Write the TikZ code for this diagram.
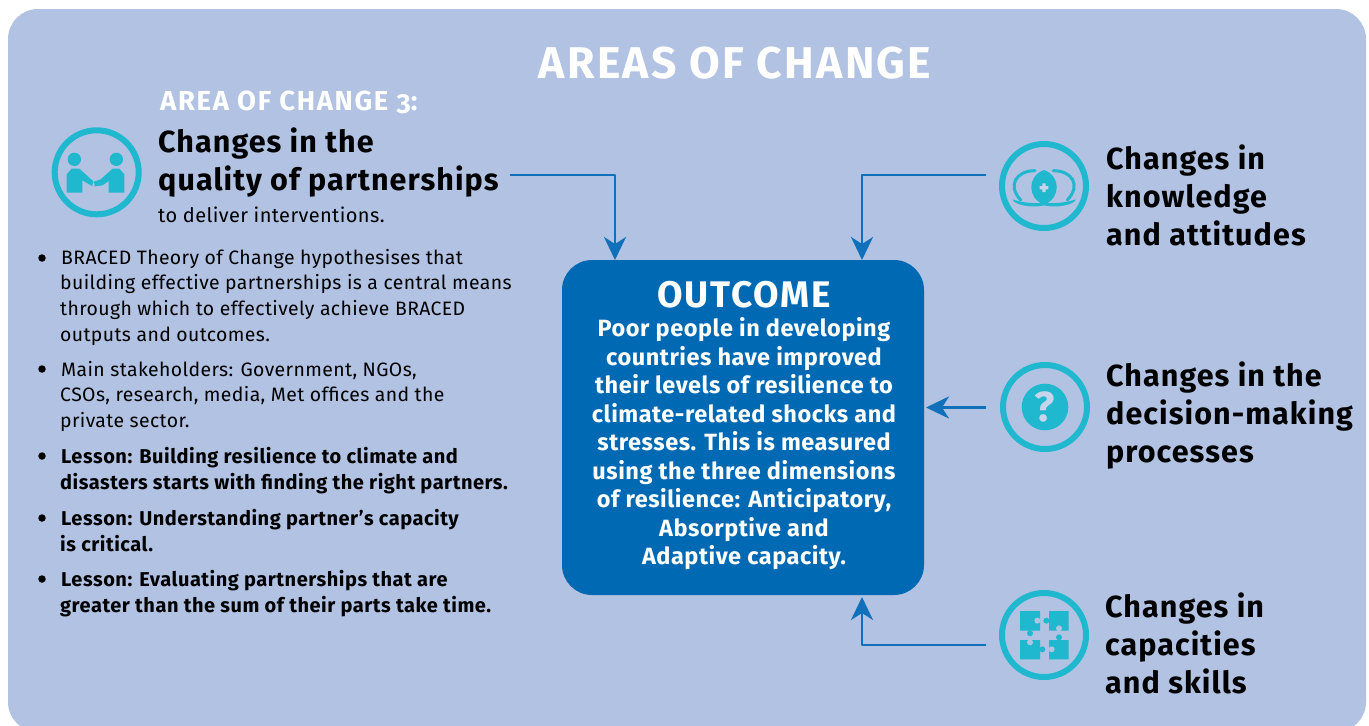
\documentclass[tikz,border=0pt]{standalone}
\usepackage{fontspec}
\setmainfont[LetterSpace=2.0]{Fira Sans}
\newfontfamily\headfont[LetterSpace=5.0]{Fira Sans}
\usetikzlibrary{arrows.meta}
\definecolor{panelblue}{HTML}{B1C2E3}
\definecolor{boxblue}{HTML}{0069B4}
\definecolor{linkblue}{HTML}{1070BA}
\definecolor{iconteal}{HTML}{1FB8CF}
\tikzset{
ring/.style={circle,draw=iconteal,line width=6pt,minimum size=84pt,inner sep=0pt},
changetxt/.style={anchor=north west,align=left,inner sep=0pt,font=\fontsize{30.5}{38}\selectfont\addfontfeature{LetterSpace=3.5}\bfseries},
bodytxt/.style={anchor=north west,align=left,inner sep=0pt,font=\fontsize{19.4}{25.6}\selectfont},
lessontxt/.style={anchor=north west,align=left,inner sep=0pt,font=\fontsize{20}{25.6}\selectfont\addfontfeature{LetterSpace=2.6}\bfseries},
bul/.style={circle,fill=black,minimum size=7.5pt,inner sep=0pt},
flow/.style={draw=linkblue,line width=2.5pt,-{Stealth[length=23pt,width=22pt,inset=7pt]}},
ink/.style={fill=iconteal,draw=none},
}
\begin{document}
\begin{tikzpicture}[x=1pt,y=-1pt,line join=round]
\useasboundingbox (0,0) rectangle (1369,726);
\fill[white] (0,0) rectangle (1369,726);
\begin{scope}
\clip (0,0) rectangle (1369,726);
\fill[panelblue,rounded corners=30pt] (8,9) rectangle (1366,732);
\end{scope}
% titles
\node[inner sep=0pt,white,font=\fontsize{44.5}{44.5}\selectfont\headfont\bfseries] (title) at (735,63) {AREAS OF CHANGE};
\node[anchor=west,inner sep=0pt,white,font=\fontsize{27.5}{27.5}\selectfont\addfontfeature{LetterSpace=6}\bfseries] (areathree) at (160,102.5) {AREA OF CHANGE {\addfontfeature{Numbers=OldStyle}3}:};
% outcome box
\node[fill=boxblue,rounded corners=30pt,minimum width=362pt,minimum height=335pt,inner sep=0pt] (outcome) at (743,427.5) {};
\node[inner sep=0pt,white,font=\fontsize{37}{37}\selectfont\headfont\bfseries] (outhead) at (744,295) {OUTCOME};
\node[anchor=north,inner sep=0pt,white,align=center,font=\fontsize{23.5}{28.5}\selectfont\addfontfeature{LetterSpace=2.3}\bfseries] (outtxt) at (744,317.5) {Poor people in developing\\countries have improved\\their levels of resilience to\\climate-related shocks and\\stresses. This is measured\\using the three dimensions\\of resilience: Anticipatory,\\Absorptive and\\Adaptive capacity.};
% left column
\node[ring] (iconA) at (96.7,172.3) {};
\node[changetxt] (changeA) at (158,127.5) {Changes in the\\quality of partnerships};
\node[anchor=west,inner sep=0pt,font=\fontsize{20}{20}\selectfont] (deliver) at (158,215) {to deliver interventions.};
\foreach \y in {258,369,456,518,579} \node[bul] (bul\y) at (42,\y) {};
\node[bodytxt] (itemA) at (60,249) {\hspace{1pt}BRACED Theory of Change hypothesises that\\building effective partnerships is a central means\\through which to effectively achieve BRACED\\outputs and outcomes.};
\node[bodytxt] (itemB) at (60,361) {\hspace{1pt}Main stakeholders: Government, NGOs,\\CSOs, research, media, Met offices and the\\private sector.};
\node[lessontxt] (itemC) at (60,447) {\hspace{1pt}Lesson: Building resilience to climate and\\disasters starts with finding the right partners.};
\node[lessontxt] (itemD) at (60,509) {\hspace{1pt}Lesson: Understanding partner's capacity\\is critical.};
\node[lessontxt] (itemE) at (60,570) {\hspace{1pt}Lesson: Evaluating partnerships that are\\greater than the sum of their parts take time.};
% right column
\node[ring] (iconB) at (1044,186) {};
\node[ring] (iconC) at (1045,407) {};
\node[ring] (iconD) at (1044,635) {};
\node[changetxt] (changeB) at (1106,144.5) {Changes in\\knowledge\\and attitudes};
\node[changetxt] (changeC) at (1106,361.5) {Changes in the\\decision-making\\processes};
\node[changetxt] (changeD) at (1105,592.5) {Changes in\\capacities\\and skills};
% handshake icon
\begin{scope}[shift={(30,80)},scale=1/3]
\fill[ink] (133,238) circle (20) (259,238) circle (20);
\fill[ink] (110,338) -- (110,283) -- (125,266) -- (148,266) -- (190,304) -- (186,318) -- (157,301) -- (157,338) -- cycle;
\fill[ink] (283,338) -- (283,283) -- (268,266) -- (248,266) -- (212,298) -- (192,305) -- (194,319) -- (218,316) -- (236,303) -- (236,338) -- cycle;
\end{scope}
% eye icon
\begin{scope}[shift={(980,130)},scale=1/3]
\fill[ink] (192,120) .. controls (243,138) and (243,205) .. (192,224) .. controls (141,205) and (141,138) .. (192,120) -- cycle;
\fill[white!30!panelblue] (187,160) rectangle (197,186) (179,168) rectangle (205,178);
\draw[iconteal,line width=3pt,line cap=round] (165,122) .. controls (110,122) and (80,165) .. (122,210) (220,122) .. controls (275,122) and (305,165) .. (262,210);
\fill[ink] (98,208) .. controls (125,218) and (165,222) .. (192,218) .. controls (220,222) and (260,218) .. (287,208) .. controls (285,225) and (225,235) .. (192,226) .. controls (160,235) and (100,225) .. (98,208) -- cycle;
\end{scope}
% question icon
\node[circle,fill=iconteal,minimum size=46.6pt,inner sep=0pt,text=white!30!panelblue,font=\fontsize{42}{42}\selectfont\bfseries] (quest) at (1045,407) {?};
% puzzle icon
\begin{scope}[shift={(980,580)},scale=1/3]
\fill[ink] (120,93) rectangle (180,152) (207,93) rectangle (266,152) (120,180) rectangle (180,238) (207,180) rectangle (266,238);
\fill[ink] (150,160) circle (9) (199,122) circle (9) (187,208) circle (9) (237,172) circle (9);
\fill[panelblue] (172,122) circle (9) (237,145) circle (9) (150,187) circle (9) (215,208) circle (9);
\end{scope}
% links
\coordinate (tailA) at (510,175);
\coordinate (tipA) at (615,260);
\coordinate (tailB) at (986,175);
\coordinate (tipB) at (862,260);
\coordinate (tailC) at (986,407.5);
\coordinate (tipC) at (926,407.5);
\coordinate (tailD) at (986,645);
\coordinate (tipD) at (862,597);
\draw[flow] (tailA) -| (tipA);
\draw[flow] (tailB) -| (tipB);
\draw[flow] (tailC) -- (tipC);
\draw[flow] (tailD) -| (tipD);
\end{tikzpicture}
\end{document}
